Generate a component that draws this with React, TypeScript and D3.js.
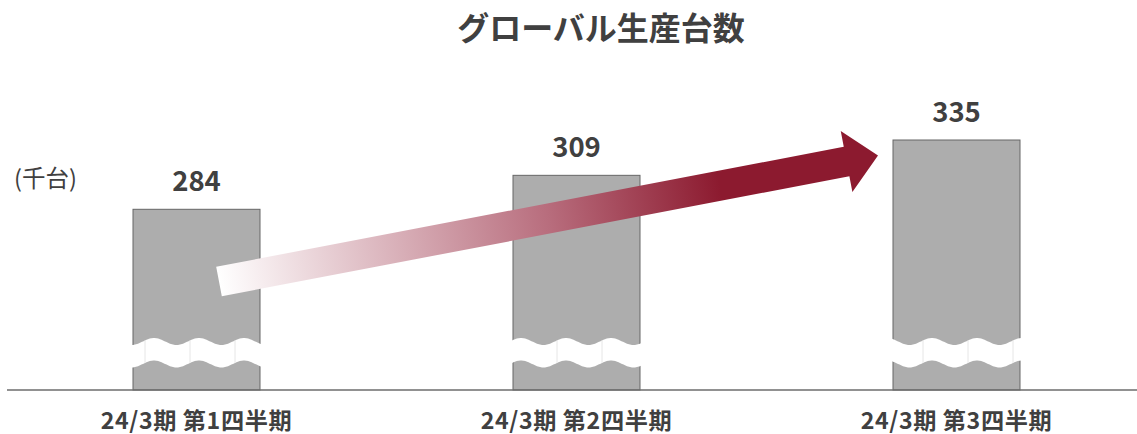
import React from "react";
import * as d3 from "d3";

const categories = ["24/3期 第1四半期", "24/3期 第2四半期", "24/3期 第3四半期"];
const values = [284, 309, 335];
const wavePhase = [21, 8, 39];
const title = "グローバル生産台数";
const unitLabel = "(千台)";

const W = 1137;
const H = 434;
const FONT = "'Noto Sans CJK JP', 'Noto Sans', sans-serif";
const TEXT = "#404040";

export default function App() {
  const x = d3.scalePoint<string>().domain(categories).range([196.5, 956.5]);
  const y = d3.scaleLinear().domain([151, 335]).range([390, 140]);
  const bw = 127;
  const baseY = y(151);

  // break band
  const period = 45;
  const amp = 3.5;
  const midTop = 341.5;
  const bandH = 22.5;
  const bands = categories.map((c, i) => {
    const left = (x(c) as number) - bw / 2 - 2;
    const right = (x(c) as number) + bw / 2 + 2;
    const peak = (x(c) as number) - bw / 2 + wavePhase[i];
    const xs = d3.range(left, right + 0.5, 1);
    const topY = (xx: number) => midTop - amp * Math.cos((2 * Math.PI * (xx - peak)) / period);
    const pts: [number, number][] = [
      ...xs.map((xx) => [xx, topY(xx)] as [number, number]),
      ...xs.slice().reverse().map((xx) => [xx, topY(xx) + bandH] as [number, number]),
    ];
    const d = d3.line()(pts) + "Z";
    const seams: number[] = [];
    for (let s = peak - 9 - period * 4; s < right; s += period) {
      if (s > left + 4 && s < right - 4) seams.push(s);
    }
    return { d, seams, topY };
  });

  // arrow
  const T: [number, number] = [219, 281.5];
  const P: [number, number] = [878, 155.5];
  const dx = P[0] - T[0];
  const dy = P[1] - T[1];
  const len = Math.hypot(dx, dy);
  const u = [dx / len, dy / len];
  const n = [-u[1], u[0]];
  const shaftHalf = 15;
  const headHalf = 31;
  const headLen = 32;
  const J = [P[0] - u[0] * headLen, P[1] - u[1] * headLen];
  const pt = (base: number[], k: number) => [base[0] + n[0] * k, base[1] + n[1] * k];
  const arrowPts = [
    pt(T, -shaftHalf),
    pt(J, -shaftHalf),
    pt(J, -headHalf),
    P,
    pt(J, headHalf),
    pt(J, shaftHalf),
    pt(T, shaftHalf),
  ];
  const arrowPath = d3.line()(arrowPts as [number, number][]) + "Z";

  return (
    <svg
      width={W}
      height={H}
      style={{ position: "absolute", left: 0, top: 0, background: "#fff" }}
      fontFamily={FONT}
    >
      <defs>
        <linearGradient id="arrowGrad" gradientUnits="userSpaceOnUse" x1={T[0]} y1={T[1]} x2={P[0]} y2={P[1]}>
          <stop offset="0" stopColor="#ffffff" />
          <stop offset="0.5" stopColor="#b86d7d" />
          <stop offset="0.76" stopColor="#8c1a2f" />
          <stop offset="1" stopColor="#8c1a2f" />
        </linearGradient>
      </defs>

      <text x={601} y={40} textAnchor="middle" fontSize={32} fontWeight="bold" fill={TEXT}>
        {title}
      </text>

      <text x={14} y={187} fontSize={23.5} fill={TEXT}>
        {unitLabel}
      </text>

      {categories.map((c, i) => {
        const cx = x(c) as number;
        return (
          <g key={c}>
            <rect
              x={cx - bw / 2}
              y={y(values[i])}
              width={bw}
              height={baseY - y(values[i])}
              fill="#adadad"
              stroke="#666666"
              strokeWidth={1}
            />
            <path d={bands[i].d} fill="#ffffff" />
            {bands[i].seams.map((s) => (
              <line
                key={s}
                x1={s}
                x2={s}
                y1={bands[i].topY(s)}
                y2={bands[i].topY(s) + bandH}
                stroke="#e6e6e6"
                strokeWidth={1}
              />
            ))}
            <text x={cx} y={y(values[i]) - 18} textAnchor="middle" fontSize={27.5} fontWeight="bold" fill={TEXT}>
              {values[i]}
            </text>
            <text x={cx} y={429} textAnchor="middle" fontSize={23.2} fontWeight="bold" fill={TEXT} letterSpacing={0.6}>
              {c}
            </text>
          </g>
        );
      })}

      <line x1={7} x2={W} y1={baseY} y2={baseY} stroke="#6d6d6d" strokeWidth={1.5} />

      <path d={arrowPath} fill="url(#arrowGrad)" />
    </svg>
  );
}
